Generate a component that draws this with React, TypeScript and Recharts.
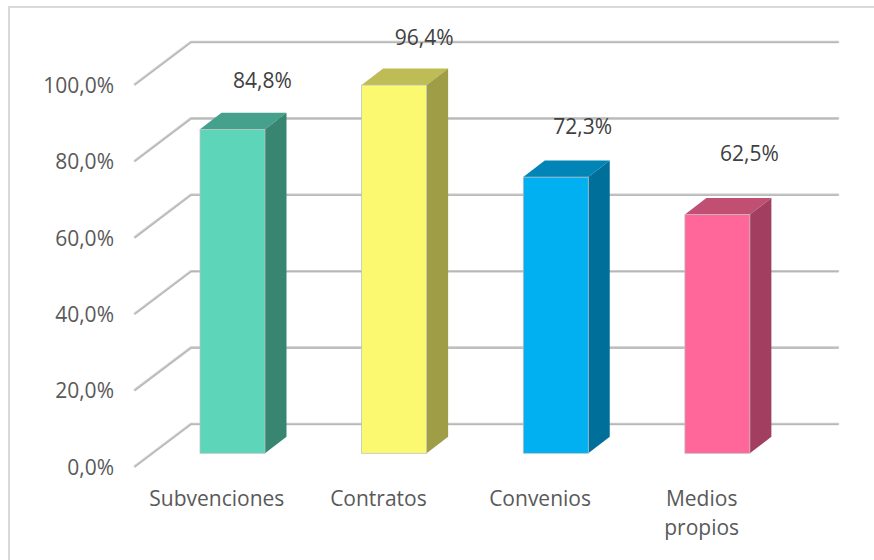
import { Bar, BarChart, CartesianGrid, LabelList, XAxis, YAxis } from 'recharts';

const categories = ['Subvenciones', 'Contratos', 'Convenios', 'Medios propios'];
const values = [84.8, 96.4, 72.3, 62.5];
const yTicks = [0, 20, 40, 60, 80, 100];

const frontColors = ['#5DD5B8', '#FBF96F', '#00B0F0', '#FF6699'];
const topColors = ['#45A18B', '#BDBC55', '#0085B6', '#C14F74'];
const sideColors = ['#388672', '#9F9E47', '#006F9A', '#A23F60'];

const labelOffsets = [
  { dx: 30, dy: -48 },
  { dx: 30, dy: -47.5 },
  { dx: 27, dy: -50.5 },
  { dx: 32, dy: -60.5 },
];

const data = categories.map((name, i) => ({ name, value: values[i] }));

const formatPercent = (v: number) => `${v.toFixed(1).replace('.', ',')}%`;
const font = '"Open Sans", sans-serif';
const fontSize = 21;

function Box(props: any) {
  const { x, y, width, height, index } = props;
  const dx = 21.5;
  const dy = 16.5;
  const r = x + width;
  const b = y + height;
  return (
    <g>
      <path d={`M${x},${y} L${x + dx},${y - dy} L${r + dx},${y - dy} L${r},${y} Z`} fill={topColors[index]} />
      <path d={`M${r},${y} L${r + dx},${y - dy} L${r + dx},${b - dy} L${r},${b} Z`} fill={sideColors[index]} />
      <rect x={x} y={y} width={width} height={height} fill={frontColors[index]} stroke="#bfbfbf" strokeWidth={0.75} />
    </g>
  );
}

// shelf line: goes up the left wall, then along the back wall
function GridLine(props: any) {
  const { y1, index } = props;
  const d = `M135,${y1 + 13} L191,${y1 - 29.3} L838,${y1 - 29.3}`;
  return (
    <g key={index}>
      <path d={d} fill="none" stroke="#cacaca" strokeWidth={2.6} strokeLinecap="round" strokeLinejoin="round" />
      <path d={d} fill="none" stroke="#b4b4b4" strokeWidth={1} transform="translate(0,0.4)" />
    </g>
  );
}

function CategoryTick(props: any) {
  const { x, payload } = props;
  return (
    <text x={x - 16} y={505.5} textAnchor="middle" fontFamily={font} fontSize={fontSize} fill="#595959">
      {String(payload.value).split(' ').map((word, i) => (
        <tspan key={word} x={x - 16} dy={i === 0 ? 0 : 29}>{word}</tspan>
      ))}
    </text>
  );
}

function ValueLabel(props: any) {
  const { x, y, width, value, index } = props;
  const off = labelOffsets[index];
  return (
    <text x={x + width / 2 + off.dx} y={y + off.dy + 7} textAnchor="middle" fontFamily={font} fontSize={fontSize} fill="#404040">
      {formatPercent(value)}
    </text>
  );
}

export default function App() {
  return (
    <div style={{ position: 'absolute', left: 0, top: 0, width: 874, height: 560, background: '#fff', overflow: 'hidden' }}>
      <BarChart
        width={874}
        height={560}
        data={data}
        margin={{ top: 71.3, right: 75.5, bottom: 76.7, left: 112 }}
        barSize={65}
      >
        <CartesianGrid vertical={false} horizontal={GridLine} />
        <XAxis dataKey="name" height={30} axisLine={false} tickLine={false} tick={CategoryTick} interval={0} />
        <YAxis
          domain={[0, 100]}
          ticks={yTicks}
          width={40}
          axisLine={false}
          tickLine={false}
          tickFormatter={formatPercent}
          tick={{ fontFamily: font, fontSize, fill: '#595959', dy: 14, dx: -30 }}
        />
        <Bar dataKey="value" shape={Box} isAnimationActive={false}>
          <LabelList dataKey="value" content={ValueLabel} />
        </Bar>
      </BarChart>
      <div style={{ position: 'absolute', left: 8, top: 6, width: 866, height: 2, background: '#d9d9d9' }} />
      <div style={{ position: 'absolute', left: 8, top: 6, width: 2, height: 554, background: '#d9d9d9' }} />
    </div>
  );
}
